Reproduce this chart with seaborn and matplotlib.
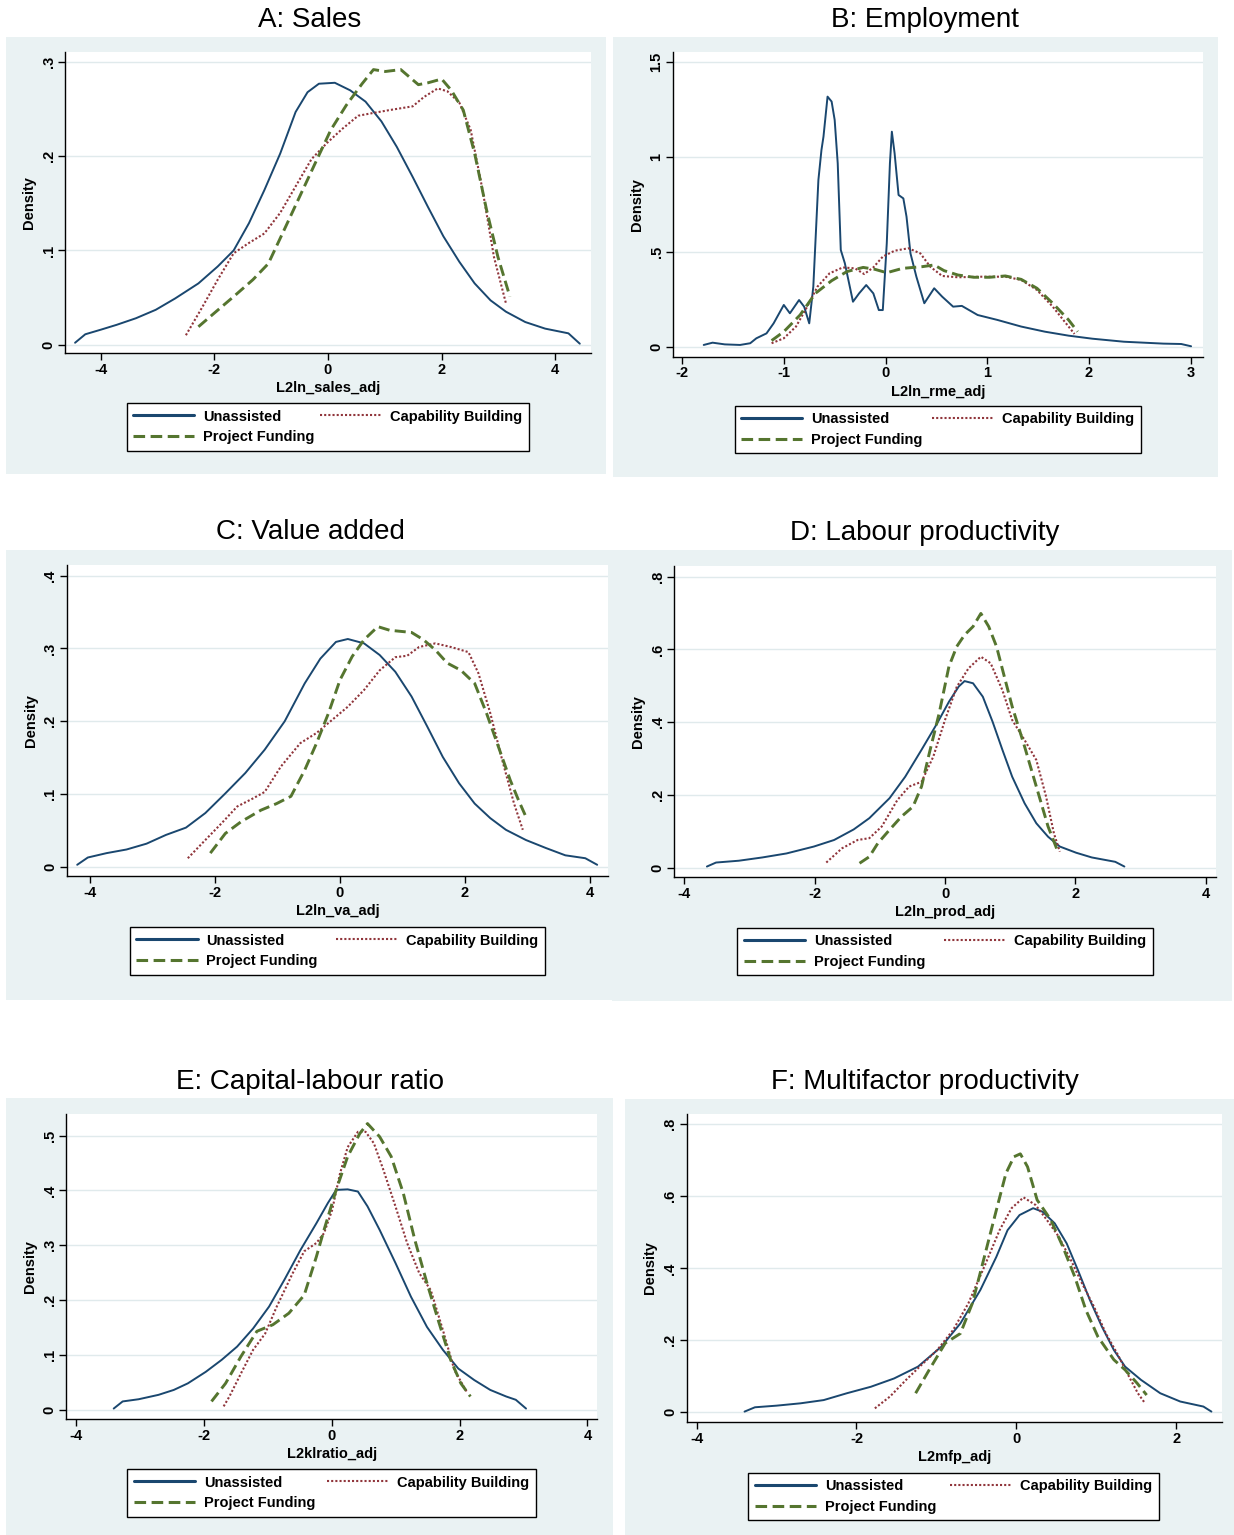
import numpy as np
import pandas as pd
import seaborn as sns
import matplotlib.pyplot as plt
from matplotlib.patches import Rectangle
from matplotlib.lines import Line2D

# kernel density curves
groups = ['Unassisted', 'Capability Building', 'Project Funding']

# A: Sales
sales_un_x = [-4.45,-4.27,-3.99,-3.72,-3.38,-3.03,-2.69,-2.28,-1.94,-1.66,-1.39,-1.12,-0.84,-0.57,-0.36,-0.16,0.12,0.39,0.66,0.94,1.21,1.49,1.76,2.03,2.31,2.58,2.86,3.13,3.47,3.82,4.23,4.43]
sales_un_y = [0.002,0.011,0.016,0.021,0.028,0.037,0.049,0.065,0.083,0.100,0.129,0.164,0.203,0.247,0.268,0.277,0.278,0.270,0.258,0.237,0.210,0.178,0.146,0.115,0.088,0.065,0.047,0.035,0.024,0.017,0.012,0.001]
sales_cb_x = [-2.50,-2.21,-1.94,-1.66,-1.39,-1.12,-0.84,-0.57,-0.29,-0.02,0.25,0.53,0.80,1.08,1.49,1.69,1.93,2.10,2.31,2.51,2.72,2.92,3.13]
sales_cb_y = [0.010,0.040,0.069,0.097,0.108,0.118,0.140,0.168,0.197,0.214,0.229,0.243,0.246,0.249,0.253,0.263,0.272,0.269,0.257,0.228,0.164,0.093,0.044]
sales_pf_x = [-2.28,-2.01,-1.66,-1.32,-1.05,-0.77,-0.50,-0.23,0.05,0.32,0.60,0.80,1.01,1.28,1.59,1.76,2.00,2.17,2.38,2.58,2.79,2.99,3.20]
sales_pf_y = [0.019,0.033,0.051,0.069,0.086,0.122,0.157,0.192,0.228,0.254,0.277,0.292,0.290,0.292,0.276,0.278,0.282,0.270,0.249,0.203,0.143,0.093,0.051]

# B: Employment
emp_un_x = [-1.787,-1.70,-1.58,-1.43,-1.33,-1.27,-1.17,-1.10,-1.00,-0.94,-0.85,-0.80,-0.75,-0.71,-0.66,-0.63,-0.61,-0.57,-0.53,-0.50,-0.47,-0.44,-0.40,-0.32,-0.26,-0.19,-0.12,-0.066,-0.027,0.012,0.043,0.062,0.089,0.128,0.175,0.206,0.245,0.303,0.381,0.478,0.556,0.664,0.750,0.905,1.099,1.333,1.566,1.799,2.032,2.343,2.731,2.906,3.003]
emp_un_y = [0.009,0.021,0.012,0.009,0.018,0.044,0.070,0.123,0.220,0.176,0.246,0.211,0.123,0.316,0.879,1.037,1.108,1.319,1.293,1.196,0.967,0.510,0.440,0.237,0.281,0.325,0.281,0.193,0.193,0.545,0.967,1.134,1.020,0.800,0.782,0.686,0.492,0.369,0.229,0.308,0.264,0.211,0.215,0.167,0.141,0.106,0.079,0.058,0.042,0.026,0.016,0.014,0.002]
emp_cb_x = [-1.12,-1.00,-0.88,-0.77,-0.67,-0.55,-0.42,-0.30,-0.21,-0.12,-0.027,0.089,0.225,0.342,0.439,0.556,0.711,0.944,1.177,1.333,1.488,1.643,1.760,1.857]
emp_cb_y = [0.018,0.044,0.106,0.211,0.316,0.387,0.418,0.413,0.383,0.418,0.475,0.506,0.519,0.492,0.422,0.373,0.366,0.369,0.369,0.352,0.299,0.211,0.132,0.067]
emp_pf_x = [-1.12,-1.00,-0.84,-0.69,-0.53,-0.38,-0.22,-0.105,0.012,0.167,0.361,0.478,0.575,0.711,0.866,1.022,1.177,1.333,1.488,1.643,1.799,1.888]
emp_pf_y = [0.032,0.079,0.167,0.281,0.348,0.396,0.418,0.408,0.390,0.413,0.422,0.431,0.401,0.378,0.366,0.366,0.373,0.355,0.308,0.229,0.141,0.079]

# C: Value added
va_un_x = [-4.20,-4.03,-3.73,-3.41,-3.09,-2.78,-2.46,-2.15,-1.83,-1.51,-1.20,-0.88,-0.56,-0.31,-0.06,0.13,0.39,0.64,0.89,1.15,1.40,1.65,1.91,2.16,2.41,2.66,2.98,3.30,3.61,3.93,4.12]
va_un_y = [0.003,0.013,0.019,0.024,0.032,0.044,0.054,0.074,0.101,0.129,0.161,0.200,0.252,0.286,0.309,0.313,0.307,0.291,0.268,0.234,0.193,0.151,0.115,0.087,0.067,0.051,0.037,0.026,0.016,0.012,0.003]
va_cb_x = [-2.43,-2.15,-1.89,-1.64,-1.39,-1.20,-0.94,-0.63,-0.37,-0.12,0.13,0.39,0.64,0.89,1.08,1.27,1.53,1.78,2.06,2.22,2.41,2.60,2.79,2.93]
va_cb_y = [0.012,0.037,0.060,0.083,0.094,0.103,0.138,0.170,0.184,0.202,0.220,0.243,0.270,0.288,0.290,0.302,0.307,0.302,0.295,0.266,0.211,0.147,0.087,0.051]
va_pf_x = [-2.07,-1.83,-1.58,-1.26,-1.01,-0.78,-0.56,-0.37,-0.18,0.006,0.20,0.39,0.61,0.80,1.15,1.34,1.53,1.72,1.94,2.16,2.35,2.54,2.73,2.86,2.99]
va_pf_y = [0.019,0.046,0.062,0.078,0.087,0.097,0.133,0.170,0.211,0.257,0.289,0.312,0.330,0.325,0.322,0.312,0.298,0.280,0.270,0.252,0.211,0.165,0.119,0.092,0.067]

# D: Labour productivity
prod_un_x = [-3.65,-3.51,-3.16,-2.80,-2.43,-2.01,-1.70,-1.40,-1.16,-0.85,-0.61,-0.36,-0.12,0.06,0.21,0.30,0.43,0.58,0.73,0.88,1.03,1.22,1.40,1.58,1.76,2.01,2.25,2.61,2.75]
prod_un_y = [0.003,0.014,0.019,0.028,0.039,0.058,0.076,0.105,0.136,0.191,0.250,0.324,0.397,0.456,0.498,0.513,0.507,0.470,0.401,0.324,0.250,0.177,0.122,0.085,0.058,0.041,0.028,0.016,0.003]
prod_cb_x = [-1.82,-1.58,-1.34,-1.16,-0.97,-0.73,-0.55,-0.36,-0.18,0.0,0.18,0.36,0.55,0.70,0.88,1.03,1.22,1.40,1.55,1.67,1.76]
prod_cb_y = [0.014,0.053,0.076,0.081,0.113,0.186,0.223,0.236,0.305,0.406,0.497,0.548,0.580,0.562,0.488,0.406,0.351,0.296,0.195,0.094,0.044]
prod_pf_x = [-1.31,-1.16,-1.03,-0.85,-0.67,-0.49,-0.36,-0.24,-0.09,0.06,0.18,0.30,0.43,0.55,0.67,0.79,0.91,1.03,1.22,1.40,1.58,1.73]
prod_pf_y = [0.012,0.030,0.067,0.104,0.140,0.168,0.223,0.315,0.424,0.553,0.608,0.640,0.663,0.699,0.663,0.608,0.525,0.443,0.333,0.223,0.113,0.044]

# E: Capital-labour ratio
kl_un_x = [-3.41,-3.27,-3.02,-2.71,-2.47,-2.25,-1.97,-1.72,-1.48,-1.23,-0.98,-0.74,-0.49,-0.24,-0.06,0.07,0.25,0.41,0.56,0.75,1.00,1.24,1.49,1.74,1.98,2.23,2.48,2.73,2.88,3.04]
kl_un_y = [0.002,0.015,0.019,0.027,0.036,0.048,0.069,0.091,0.115,0.148,0.188,0.237,0.291,0.340,0.377,0.401,0.402,0.398,0.371,0.328,0.267,0.206,0.151,0.109,0.075,0.054,0.036,0.024,0.018,0.002]
kl_cb_x = [-1.69,-1.60,-1.42,-1.23,-1.04,-0.86,-0.61,-0.43,-0.24,-0.12,0.006,0.13,0.25,0.41,0.53,0.66,0.81,1.00,1.18,1.37,1.55,1.74,1.92,2.11]
kl_cb_y = [0.006,0.024,0.066,0.109,0.139,0.188,0.249,0.289,0.304,0.322,0.364,0.431,0.479,0.507,0.507,0.486,0.437,0.370,0.304,0.249,0.218,0.145,0.072,0.033]
kl_pf_x = [-1.88,-1.66,-1.42,-1.17,-0.92,-0.67,-0.43,-0.24,-0.12,0.07,0.25,0.44,0.56,0.75,0.93,1.12,1.30,1.49,1.68,1.86,2.02,2.17]
kl_pf_y = [0.015,0.048,0.097,0.143,0.155,0.176,0.209,0.279,0.328,0.401,0.462,0.504,0.522,0.498,0.462,0.395,0.310,0.231,0.158,0.091,0.048,0.024]

# F: Multifactor productivity
mfp_un_x = [-3.40,-3.27,-3.00,-2.70,-2.41,-2.12,-1.82,-1.53,-1.23,-0.94,-0.70,-0.45,-0.25,-0.11,0.04,0.21,0.33,0.48,0.63,0.77,0.92,1.07,1.22,1.36,1.56,1.80,2.05,2.34,2.44]
mfp_un_y = [0.002,0.014,0.0185,0.025,0.034,0.053,0.071,0.094,0.127,0.182,0.247,0.340,0.432,0.506,0.548,0.567,0.557,0.525,0.469,0.395,0.312,0.238,0.173,0.127,0.090,0.053,0.030,0.016,0.002]
mfp_cb_x = [-1.77,-1.58,-1.38,-1.19,-0.99,-0.79,-0.60,-0.40,-0.21,-0.06,0.09,0.24,0.38,0.53,0.68,0.82,0.97,1.12,1.26,1.41,1.52,1.61]
mfp_cb_y = [0.011,0.044,0.090,0.131,0.173,0.229,0.303,0.405,0.506,0.567,0.597,0.576,0.535,0.488,0.424,0.359,0.294,0.219,0.164,0.099,0.053,0.025]
mfp_pf_x = [-1.26,-1.09,-0.89,-0.70,-0.55,-0.40,-0.25,-0.13,-0.03,0.05,0.14,0.26,0.43,0.58,0.73,0.87,1.02,1.22,1.36,1.51,1.63]
mfp_pf_y = [0.053,0.118,0.192,0.219,0.303,0.432,0.562,0.664,0.710,0.718,0.682,0.590,0.535,0.461,0.377,0.284,0.210,0.146,0.118,0.081,0.048]

# layout (pixel coords of the 1234x1535 canvas): box, axes, legend = (left, top, right, bottom)
panels = [
    dict(title='A: Sales', xlabel='L2ln_sales_adj',
         curves=[(sales_un_x, sales_un_y), (sales_cb_x, sales_cb_y), (sales_pf_x, sales_pf_y)],
         xticks=[-4, -2, 0, 2, 4], yticks=[0, .1, .2, .3],
         xlim=(-4.62, 4.62), ylim=(-0.0092, 0.311),
         box=(6, 37, 606, 474), axes=(65.4, 51.7, 590.6, 353.3), legend=(126.5, 403, 529, 453), tpos=(310, 20)),
    dict(title='B: Employment', xlabel='L2ln_rme_adj',
         curves=[(emp_un_x, emp_un_y), (emp_cb_x, emp_cb_y), (emp_pf_x, emp_pf_y)],
         xticks=[-2, -1, 0, 1, 2, 3], yticks=[0, .5, 1, 1.5],
         xlim=(-2.086, 3.12), ylim=(-0.053, 1.556),
         box=(613, 37, 1218, 477), axes=(673.3, 51.7, 1203, 356.7), legend=(734.5, 405.7, 1140.6, 455.7), tpos=(925, 20)),
    dict(title='C: Value added', xlabel='L2ln_va_adj',
         curves=[(va_un_x, va_un_y), (va_cb_x, va_cb_y), (va_pf_x, va_pf_y)],
         xticks=[-4, -2, 0, 2, 4], yticks=[0, .1, .2, .3, .4],
         xlim=(-4.36, 4.29), ylim=(-0.0124, 0.4146),
         box=(6, 550, 612, 1000), axes=(67.2, 565, 607.8, 876), legend=(129.7, 927, 545, 978), tpos=(310, 532)),
    dict(title='D: Labour productivity', xlabel='L2ln_prod_adj',
         curves=[(prod_un_x, prod_un_y), (prod_cb_x, prod_cb_y), (prod_pf_x, prod_pf_y)],
         xticks=[-4, -2, 0, 2, 4], yticks=[0, .2, .4, .6, .8],
         xlim=(-4.15, 4.15), ylim=(-0.0266, 0.8295),
         box=(612, 550, 1232, 1001), axes=(674.3, 566, 1215.7, 877.3), legend=(737.3, 927.7, 1152.7, 979.3), tpos=(925, 533)),
    dict(title='E: Capital-labour ratio', xlabel='L2klratio_adj',
         curves=[(kl_un_x, kl_un_y), (kl_cb_x, kl_cb_y), (kl_pf_x, kl_pf_y)],
         xticks=[-4, -2, 0, 2, 4], yticks=[0, .1, .2, .3, .4, .5],
         xlim=(-4.15, 4.15), ylim=(-0.0176, 0.5395),
         box=(6, 1098, 613, 1535), axes=(66.4, 1114, 597, 1419.3), legend=(127.3, 1469, 535.8, 1519), tpos=(310, 1082)),
    dict(title='F: Multifactor productivity', xlabel='L2mfp_adj',
         curves=[(mfp_un_x, mfp_un_y), (mfp_cb_x, mfp_cb_y), (mfp_pf_x, mfp_pf_y)],
         xticks=[-4, -2, 0, 2], yticks=[0, .2, .4, .6, .8],
         xlim=(-4.125, 2.57), ylim=(-0.0269, 0.8287),
         box=(625, 1099, 1234, 1535), axes=(686.6, 1114, 1221.8, 1422), legend=(748.4, 1472.7, 1159, 1522.7), tpos=(925, 1082)),
]

navy, maroon, green = '#1A476F', '#90353B', '#55752F'
colors = {'Unassisted': navy, 'Capability Building': maroon, 'Project Funding': green}
widths = {'Unassisted': 1.4, 'Capability Building': 1.5, 'Project Funding': 2.1}
styles = {'Unassisted': '-', 'Capability Building': (0, (1, 1)), 'Project Funding': (0, (3.8, 1.8))}
bg = '#EAF2F3'

sns.set_style('ticks')
plt.rcParams['font.family'] = ['Liberation Sans', 'DejaVu Sans']
plt.rcParams['font.weight'] = 'bold'
plt.rcParams['axes.labelweight'] = 'bold'
for k in ['text.color', 'axes.labelcolor', 'xtick.color', 'ytick.color']:
    plt.rcParams[k] = 'black'

W, H = 1234, 1535
fig = plt.figure(figsize=(W / 100, H / 100), dpi=100)


def fx(px):
    return px / W


def fy(py):
    return 1 - py / H


def stata_fmt(v):
    s = f"{v:g}"
    if s.startswith('0.'):
        s = s[1:]
    elif s.startswith('-0.'):
        s = '-' + s[2:]
    return s


for p in panels:
    l, t, r, b = p['box']
    fig.patches.append(Rectangle((fx(l), fy(b)), (r - l) / W, (b - t) / H,
                                 transform=fig.transFigure, facecolor=bg, edgecolor='none', zorder=-5))
    fig.text(fx(p['tpos'][0]), fy(p['tpos'][1]), p['title'], ha='center', va='center',
             fontsize=20, fontweight='normal')

    l, t, r, b = p['axes']
    ax = fig.add_axes([fx(l), fy(b), (r - l) / W, (b - t) / H])
    ax.set_facecolor('white')

    frames = []
    for g, (x, y) in zip(groups, p['curves']):
        frames.append(pd.DataFrame({'x': x, 'y': y, 'group': g}))
    df = pd.concat(frames, ignore_index=True)
    for g in groups:
        d = df[df['group'] == g]
        sns.lineplot(data=d, x='x', y='y', ax=ax, color=colors[g], lw=widths[g],
                     linestyle=styles[g], sort=False, estimator=None)

    ax.set_xlim(*p['xlim'])
    ax.set_ylim(*p['ylim'])
    ax.set_xticks(p['xticks'])
    ax.set_xticklabels([stata_fmt(v) for v in p['xticks']])
    ax.set_yticks(p['yticks'])
    ax.set_yticklabels([stata_fmt(v) for v in p['yticks']], rotation=90, va='center')
    ax.yaxis.grid(True, color='#E0EAEC', lw=1.0)
    ax.xaxis.grid(False)
    ax.set_axisbelow(True)
    for s in ['top', 'right']:
        ax.spines[s].set_visible(False)
    for s in ['left', 'bottom']:
        ax.spines[s].set_color('black')
        ax.spines[s].set_linewidth(1.0)
    ax.tick_params(direction='out', length=5, width=1, color='black', labelsize=10.5, pad=2)
    ax.set_xlabel(p['xlabel'], fontsize=10.5, labelpad=3)
    ax.set_ylabel('Density', fontsize=10.5, labelpad=4)

    l, t, r, b = p['legend']
    handles = [Line2D([], [], color=navy, lw=2.2),
               Line2D([], [], color=green, lw=2.2, ls=(0, (3.8, 1.8))),
               Line2D([], [], color=maroon, lw=1.5, ls=(0, (1, 1)))]
    labels = ['Unassisted', 'Project Funding', 'Capability Building']
    leg = fig.legend(handles, labels, ncol=2, mode='expand', loc='upper left',
                     bbox_to_anchor=(fx(l), fy(b), (r - l) / W, (b - t) / H),
                     bbox_transform=fig.transFigure, frameon=True, fancybox=False,
                     edgecolor='black', facecolor='white', framealpha=1,
                     handlelength=4.2, handletextpad=0.6, labelspacing=0.45,
                     borderpad=0.45, borderaxespad=0, fontsize=10.5)
    leg.get_frame().set_linewidth(1.0)

fig.savefig('out.png', dpi=100, facecolor='white')
